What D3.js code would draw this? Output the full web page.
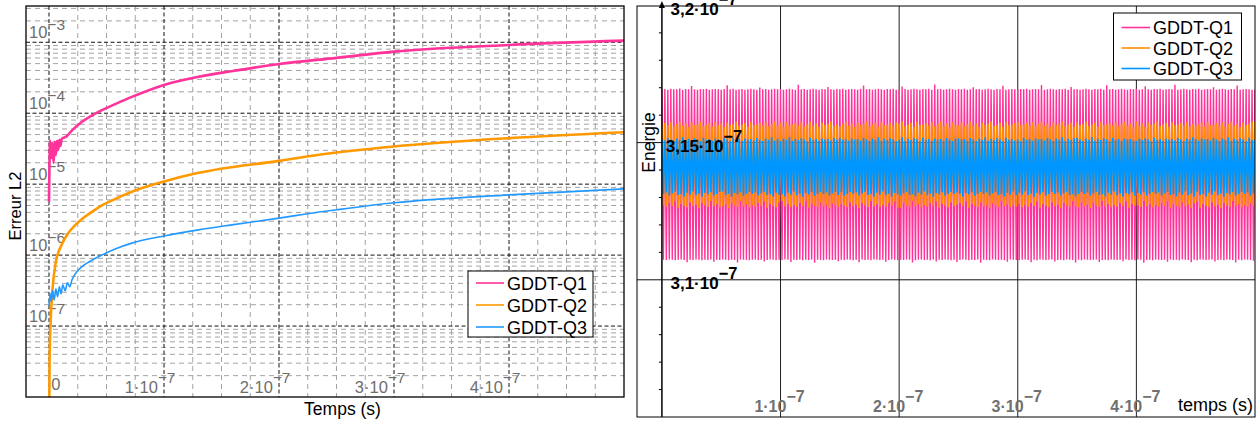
<!DOCTYPE html>
<html><head><meta charset="utf-8">
<script src="https://cdn.jsdelivr.net/npm/d3@7"></script>
<style>
body{margin:0;background:#fff}
svg{display:block}
text{font-family:"Liberation Sans",Arial,Helvetica,sans-serif}
</style>
</head><body>
<svg id="c" width="1258" height="421"></svg>
<script>
// ---------- shared ----------
const seriesNames = ["GDDT-Q1", "GDDT-Q2", "GDDT-Q3"];
const leftColors = ["#ff3399", "#ff9900", "#2299ff"];
const rightColors = ["#ff3399", "#ff8c00", "#0096ff"];

// ---------- left panel: L2 error vs time (s) ----------
const q1Time = [0, 1e-9, 2e-9, 3e-9, 4e-9, 5e-9, 6e-9, 7e-9, 8e-9, 9e-9, 1.0e-8, 1.1e-8, 1.5e-8, 2.0e-8, 2.9e-8, 4.35e-8, 5.8e-8, 7.2e-8, 1.0e-7, 1.3e-7, 1.6e-7, 2.0e-7, 2.5e-7, 3.0e-7, 4.0e-7, 5.0e-7];
const q1Err  = [5.64e-6, 4.07e-5, 2.34e-5, 3.82e-5, 2.00e-5, 3.94e-5, 2.59e-5, 4.07e-5, 3.04e-5, 4.21e-5, 3.46e-5, 4.35e-5, 4.68e-5, 5.73e-5, 7.62e-5, 1.054e-4, 1.352e-4, 1.698e-4, 2.506e-4, 3.27e-4, 3.94e-4, 4.94e-4, 6.03e-4, 7.38e-4, 9.16e-4, 1.054e-3];

const q2Time = [0, 5e-10, 1.5e-9, 3e-9, 6e-9, 1.1e-8, 1.7e-8, 2.3e-8, 3.0e-8, 3.8e-8, 4.6e-8, 5.5e-8, 7.2e-8, 1.0e-7, 1.3e-7, 2.0e-7, 2.35e-7, 3.0e-7, 4.0e-7, 5.0e-7];
const q2Err  = [1e-9, 3.35e-8, 1.225e-7, 3.24e-7, 8.05e-7, 1.396e-6, 2.06e-6, 2.67e-6, 3.35e-6, 4.14e-6, 5.03e-6, 5.91e-6, 7.80e-6, 1.089e-5, 1.443e-5, 2.13e-5, 2.59e-5, 3.39e-5, 4.45e-5, 5.40e-5];

const q3Time = [0, 1e-9, 2e-9, 3e-9, 4.5e-9, 6e-9, 7.5e-9, 9e-9, 1.05e-8, 1.2e-8, 1.4e-8, 1.6e-8, 1.8e-8, 2.0e-8, 2.5e-8, 2.9e-8, 3.5e-8, 4.35e-8, 5.8e-8, 7.2e-8, 1.01e-7, 1.3e-7, 1.59e-7, 2.0e-7, 2.35e-7, 2.5e-7, 3.0e-7, 4.0e-7, 5.0e-7];
const q3Err  = [1.93e-7, 2.85e-7, 2.20e-7, 3.14e-7, 2.34e-7, 3.35e-7, 2.59e-7, 3.58e-7, 2.85e-7, 3.82e-7, 3.14e-7, 4.07e-7, 3.58e-7, 4.49e-7, 6.01e-7, 6.95e-7, 8.05e-7, 9.55e-7, 1.227e-6, 1.475e-6, 1.87e-6, 2.27e-6, 2.67e-6, 3.32e-6, 4.04e-6, 4.35e-6, 5.46e-6, 7.07e-6, 8.59e-6];

const leftXTicks = [0, 1e-7, 2e-7, 3e-7, 4e-7];
const leftXTickLabels = [["0", ""], ["1·10", "−7"], ["2·10", "−7"], ["3·10", "−7"], ["4·10", "−7"]];
const leftYTicks = [1e-3, 1e-4, 1e-5, 1e-6, 1e-7];
const leftYTickLabels = [["10", "−3"], ["10", "−4"], ["10", "−5"], ["10", "−6"], ["10", "−7"]];
const leftXLabel = "Temps (s)";
const leftYLabel = "Erreur L2";

// ---------- right panel: energy vs time (values in units of 1e-7) ----------
const q1EnergyHigh = [
3.1694,3.1695,3.1693,3.1696,3.1694,3.1694,3.1697,3.1693,3.1695,3.1694,3.1706,3.1694,3.1693,3.1695,3.1694,3.1696,3.1693,3.1694,3.1695,3.1694,
3.1693,3.1695,3.1709,3.1694,3.1696,3.1693,3.1694,3.1695,3.1693,3.1694,3.1696,3.1694,3.1693,3.1701,3.1694,3.1695,3.1693,3.1694,3.1696,3.1694,
3.1695,3.1693,3.1694,3.1696,3.1694,3.1693,3.1711,3.1694,3.1695,3.1693,3.1694,3.1696,3.1694,3.1693,3.1695,3.1694,3.1703,3.1694,3.1693,3.1695,
3.1694,3.1696,3.1693,3.1694,3.1695,3.1694,3.1693,3.1696,3.1708,3.1694,3.1695,3.1693,3.1694,3.1696,3.1694,3.1693,3.1695,3.1694,3.1696,3.1693,
3.1694,3.1704,3.1695,3.1693,3.1694,3.1696,3.1694,3.1693,3.1695,3.1694,3.1696,3.1693,3.1712,3.1694,3.1695,3.1693,3.1694,3.1696,3.1694,3.1693,
3.1695,3.1694,3.1696,3.1693,3.1694,3.1702,3.1694,3.1695,3.1693,3.1694,3.1696,3.1694,3.1693,3.1695,3.1694,3.1707,3.1693,3.1694,3.1695,3.1694,
3.1693,3.1695,3.1694,3.1696,3.1693,3.1694,3.1695,3.1694,3.1710,3.1693,3.1694,3.1696,3.1694,3.1693,3.1695,3.1694,3.1696,3.1693,3.1703,3.1694,
3.1695,3.1693,3.1694,3.1696,3.1694,3.1693,3.1695,3.1694,3.1696,3.1693,3.1709,3.1694,3.1695,3.1693,3.1694,3.1696,3.1694,3.1693,3.1695,3.1694,
3.1696,3.1693,3.1694,3.1705,3.1694,3.1693,3.1695,3.1694,3.1696,3.1693,3.1694,3.1695,3.1694,3.1711,3.1693,3.1694,3.1696,3.1694,3.1693,3.1695,
3.1694,3.1696,3.1693,3.1694,3.1695,3.1694,3.1702,3.1693,3.1694,3.1696,3.1694,3.1693,3.1695,3.1694,3.1708,3.1693,3.1694,3.1695,3.1694,3.1693];
const q1EnergyLow = [
3.1073,3.1072,3.1074,3.1073,3.1071,3.1073,3.1074,3.1072,3.1064,3.1073,3.1072,3.1074,3.1073,3.1071,3.1073,3.1072,3.1074,3.1066,3.1073,3.1072,
3.1074,3.1073,3.1071,3.1073,3.1072,3.1063,3.1074,3.1073,3.1072,3.1071,3.1073,3.1074,3.1072,3.1073,3.1067,3.1072,3.1074,3.1073,3.1071,3.1073,
3.1072,3.1074,3.1073,3.1065,3.1073,3.1072,3.1074,3.1071,3.1073,3.1072,3.1074,3.1062,3.1073,3.1072,3.1071,3.1074,3.1073,3.1072,3.1073,3.1068,
3.1073,3.1072,3.1074,3.1073,3.1071,3.1073,3.1064,3.1074,3.1072,3.1073,3.1071,3.1074,3.1073,3.1072,3.1073,3.1066,3.1072,3.1074,3.1073,3.1071,
3.1073,3.1072,3.1074,3.1073,3.1063,3.1071,3.1073,3.1074,3.1072,3.1073,3.1071,3.1074,3.1067,3.1073,3.1072,3.1074,3.1073,3.1071,3.1073,3.1065,
3.1072,3.1074,3.1073,3.1071,3.1073,3.1072,3.1074,3.1062,3.1073,3.1072,3.1071,3.1074,3.1073,3.1072,3.1073,3.1071,3.1066,3.1074,3.1073,3.1072,
3.1071,3.1073,3.1074,3.1072,3.1064,3.1073,3.1071,3.1074,3.1073,3.1072,3.1073,3.1074,3.1067,3.1072,3.1073,3.1071,3.1074,3.1073,3.1072,3.1063,
3.1073,3.1071,3.1074,3.1073,3.1072,3.1073,3.1074,3.1065,3.1072,3.1073,3.1071,3.1074,3.1073,3.1072,3.1073,3.1068,3.1074,3.1072,3.1073,3.1071,
3.1074,3.1073,3.1062,3.1072,3.1073,3.1071,3.1074,3.1073,3.1072,3.1073,3.1066,3.1074,3.1072,3.1073,3.1071,3.1074,3.1073,3.1072,3.1064,3.1073,
3.1071,3.1074,3.1073,3.1072,3.1073,3.1074,3.1067,3.1072,3.1073,3.1071,3.1074,3.1073,3.1072,3.1063,3.1073,3.1071,3.1074,3.1073,3.1072,3.1069];
const q2EnergyHigh = [
3.1566,3.1571,3.1562,3.1574,3.1559,3.1568,3.1576,3.1561,3.1570,3.1557,3.1573,3.1564,3.1569,3.1577,3.1560,3.1566,3.1572,3.1558,3.1575,3.1563,
3.1570,3.1557,3.1573,3.1564,3.1569,3.1577,3.1560,3.1566,3.1572,3.1558,3.1575,3.1563,3.1566,3.1571,3.1562,3.1574,3.1559,3.1568,3.1576,3.1561,
3.1572,3.1558,3.1575,3.1563,3.1566,3.1571,3.1562,3.1574,3.1559,3.1568,3.1576,3.1561,3.1570,3.1557,3.1573,3.1564,3.1569,3.1577,3.1560,3.1566,
3.1559,3.1568,3.1576,3.1561,3.1570,3.1557,3.1573,3.1564,3.1569,3.1577,3.1560,3.1566,3.1572,3.1558,3.1575,3.1563,3.1566,3.1571,3.1562,3.1574,
3.1569,3.1577,3.1560,3.1566,3.1572,3.1558,3.1575,3.1563,3.1566,3.1571,3.1562,3.1574,3.1559,3.1568,3.1576,3.1561,3.1570,3.1557,3.1573,3.1564,
3.1562,3.1574,3.1559,3.1568,3.1576,3.1561,3.1570,3.1557,3.1573,3.1564,3.1569,3.1577,3.1560,3.1566,3.1572,3.1558,3.1575,3.1563,3.1566,3.1571,
3.1575,3.1563,3.1566,3.1571,3.1562,3.1574,3.1559,3.1568,3.1576,3.1561,3.1570,3.1557,3.1573,3.1564,3.1569,3.1577,3.1560,3.1566,3.1572,3.1558,
3.1573,3.1564,3.1569,3.1577,3.1560,3.1566,3.1572,3.1558,3.1575,3.1563,3.1566,3.1571,3.1562,3.1574,3.1559,3.1568,3.1576,3.1561,3.1570,3.1557,
3.1576,3.1561,3.1570,3.1557,3.1573,3.1564,3.1569,3.1577,3.1560,3.1566,3.1572,3.1558,3.1575,3.1563,3.1566,3.1571,3.1562,3.1574,3.1559,3.1568,
3.1560,3.1566,3.1572,3.1558,3.1575,3.1563,3.1566,3.1571,3.1562,3.1574,3.1559,3.1568,3.1576,3.1561,3.1570,3.1557,3.1573,3.1564,3.1569,3.1577];
const q2EnergyLow = [
3.1272,3.1266,3.1280,3.1269,3.1285,3.1263,3.1276,3.1270,3.1264,3.1282,3.1268,3.1274,3.1262,3.1279,3.1271,3.1265,3.1287,3.1268,3.1275,3.1264,
3.1268,3.1274,3.1262,3.1279,3.1271,3.1265,3.1287,3.1268,3.1275,3.1264,3.1272,3.1266,3.1280,3.1269,3.1285,3.1263,3.1276,3.1270,3.1264,3.1282,
3.1287,3.1268,3.1275,3.1264,3.1272,3.1266,3.1280,3.1269,3.1285,3.1263,3.1276,3.1270,3.1264,3.1282,3.1268,3.1274,3.1262,3.1279,3.1271,3.1265,
3.1276,3.1270,3.1264,3.1282,3.1268,3.1274,3.1262,3.1279,3.1271,3.1265,3.1287,3.1268,3.1275,3.1264,3.1272,3.1266,3.1280,3.1269,3.1285,3.1263,
3.1262,3.1279,3.1271,3.1265,3.1287,3.1268,3.1275,3.1264,3.1272,3.1266,3.1280,3.1269,3.1285,3.1263,3.1276,3.1270,3.1264,3.1282,3.1268,3.1274,
3.1280,3.1269,3.1285,3.1263,3.1276,3.1270,3.1264,3.1282,3.1268,3.1274,3.1262,3.1279,3.1271,3.1265,3.1287,3.1268,3.1275,3.1264,3.1272,3.1266,
3.1275,3.1264,3.1272,3.1266,3.1280,3.1269,3.1285,3.1263,3.1276,3.1270,3.1264,3.1282,3.1268,3.1274,3.1262,3.1279,3.1271,3.1265,3.1287,3.1268,
3.1264,3.1282,3.1268,3.1274,3.1262,3.1279,3.1271,3.1265,3.1287,3.1268,3.1275,3.1264,3.1272,3.1266,3.1280,3.1269,3.1285,3.1263,3.1276,3.1270,
3.1271,3.1265,3.1287,3.1268,3.1275,3.1264,3.1272,3.1266,3.1280,3.1269,3.1285,3.1263,3.1276,3.1270,3.1264,3.1282,3.1268,3.1274,3.1262,3.1279,
3.1285,3.1263,3.1276,3.1270,3.1264,3.1282,3.1268,3.1274,3.1262,3.1279,3.1271,3.1265,3.1287,3.1268,3.1275,3.1264,3.1272,3.1266,3.1280,3.1269];
const q3EnergyHigh = [
3.1513,3.1508,3.1517,3.1511,3.1506,3.1515,3.1510,3.1519,3.1507,3.1514,3.1509,3.1516,3.1512,3.1505,3.1518,3.1510,3.1513,3.1507,3.1515,3.1511,
3.1509,3.1516,3.1512,3.1505,3.1518,3.1510,3.1513,3.1507,3.1515,3.1511,3.1513,3.1508,3.1517,3.1511,3.1506,3.1515,3.1510,3.1519,3.1507,3.1514,
3.1506,3.1515,3.1510,3.1519,3.1507,3.1514,3.1509,3.1516,3.1512,3.1505,3.1518,3.1510,3.1513,3.1507,3.1515,3.1511,3.1513,3.1508,3.1517,3.1511,
3.1518,3.1510,3.1513,3.1507,3.1515,3.1511,3.1513,3.1508,3.1517,3.1511,3.1506,3.1515,3.1510,3.1519,3.1507,3.1514,3.1509,3.1516,3.1512,3.1505,
3.1510,3.1519,3.1507,3.1514,3.1509,3.1516,3.1512,3.1505,3.1518,3.1510,3.1513,3.1507,3.1515,3.1511,3.1513,3.1508,3.1517,3.1511,3.1506,3.1515,
3.1515,3.1511,3.1513,3.1508,3.1517,3.1511,3.1506,3.1515,3.1510,3.1519,3.1507,3.1514,3.1509,3.1516,3.1512,3.1505,3.1518,3.1510,3.1513,3.1507,
3.1512,3.1505,3.1518,3.1510,3.1513,3.1507,3.1515,3.1511,3.1513,3.1508,3.1517,3.1511,3.1506,3.1515,3.1510,3.1519,3.1507,3.1514,3.1509,3.1516,
3.1517,3.1511,3.1506,3.1515,3.1510,3.1519,3.1507,3.1514,3.1509,3.1516,3.1512,3.1505,3.1518,3.1510,3.1513,3.1507,3.1515,3.1511,3.1513,3.1508,
3.1507,3.1514,3.1509,3.1516,3.1512,3.1505,3.1518,3.1510,3.1513,3.1507,3.1515,3.1511,3.1513,3.1508,3.1517,3.1511,3.1506,3.1515,3.1510,3.1519,
3.1513,3.1507,3.1515,3.1511,3.1513,3.1508,3.1517,3.1511,3.1506,3.1515,3.1510,3.1519,3.1507,3.1514,3.1509,3.1516,3.1512,3.1505,3.1518,3.1510];
const q3EnergyLow = [
3.1313,3.1318,3.1307,3.1315,3.1321,3.1309,3.1312,3.1304,3.1317,3.1310,3.1322,3.1308,3.1314,3.1303,3.1316,3.1311,3.1319,3.1306,3.1313,3.1320,
3.1322,3.1308,3.1314,3.1303,3.1316,3.1311,3.1319,3.1306,3.1313,3.1320,3.1313,3.1318,3.1307,3.1315,3.1321,3.1309,3.1312,3.1304,3.1317,3.1310,
3.1312,3.1304,3.1317,3.1310,3.1322,3.1308,3.1314,3.1303,3.1316,3.1311,3.1319,3.1306,3.1313,3.1320,3.1313,3.1318,3.1307,3.1315,3.1321,3.1309,
3.1319,3.1306,3.1313,3.1320,3.1313,3.1318,3.1307,3.1315,3.1321,3.1309,3.1312,3.1304,3.1317,3.1310,3.1322,3.1308,3.1314,3.1303,3.1316,3.1311,
3.1307,3.1315,3.1321,3.1309,3.1312,3.1304,3.1317,3.1310,3.1322,3.1308,3.1314,3.1303,3.1316,3.1311,3.1319,3.1306,3.1313,3.1320,3.1313,3.1318,
3.1314,3.1303,3.1316,3.1311,3.1319,3.1306,3.1313,3.1320,3.1313,3.1318,3.1307,3.1315,3.1321,3.1309,3.1312,3.1304,3.1317,3.1310,3.1322,3.1308,
3.1317,3.1310,3.1322,3.1308,3.1314,3.1303,3.1316,3.1311,3.1319,3.1306,3.1313,3.1320,3.1313,3.1318,3.1307,3.1315,3.1321,3.1309,3.1312,3.1304,
3.1313,3.1320,3.1313,3.1318,3.1307,3.1315,3.1321,3.1309,3.1312,3.1304,3.1317,3.1310,3.1322,3.1308,3.1314,3.1303,3.1316,3.1311,3.1319,3.1306,
3.1316,3.1311,3.1319,3.1306,3.1313,3.1320,3.1313,3.1318,3.1307,3.1315,3.1321,3.1309,3.1312,3.1304,3.1317,3.1310,3.1322,3.1308,3.1314,3.1303,
3.1321,3.1309,3.1312,3.1304,3.1317,3.1310,3.1322,3.1308,3.1314,3.1303,3.1316,3.1311,3.1319,3.1306,3.1313,3.1320,3.1313,3.1318,3.1307,3.1315];
const energyEndTime = 5e-7; // peaks evenly spaced in time over [0, 5e-7]
const rightXTicks = [1e-7, 2e-7, 3e-7, 4e-7];
const rightXTickLabels = [["1·10", "−7"], ["2·10", "−7"], ["3·10", "−7"], ["4·10", "−7"]];
const rightYTicks = [3.2, 3.15, 3.1];
const rightYTickLabels = [["3,2·10", "−7"], ["3,15·10", "−7"], ["3,1·10", "−7"]];
const rightYMinorTicks = [3.06, 3.07, 3.08, 3.09, 3.11, 3.12, 3.13, 3.14, 3.16, 3.17, 3.18, 3.19];
const rightXLabel = "temps (s)";
const rightYLabel = "Energie";

// ---------- drawing ----------
const svg = d3.select("#c");

function powText(g, x, y, base, exp, o) {
  const t = g.append("text").attr("x", x).attr("y", y)
    .attr("text-anchor", o.anchor).attr("fill", o.fill)
    .attr("font-size", o.size).attr("font-weight", o.weight || "normal");
  t.append("tspan").text(base);
  if (exp) t.append("tspan").attr("dy", -o.expDy).attr("font-size", o.expSize).text(exp);
  return t;
}

// ===== LEFT PANEL =====
const L = {x0: 26, x1: 624, y0: 6, y1: 397};
const lx = d3.scaleLinear().domain([-0.2e-7, 5e-7]).range([L.x0, L.x1]);
const ly = d3.scaleLog().domain([1e-8, Math.pow(10, -2.489)]).range([L.y1, L.y0]);
const gL = svg.append("g");
const defs = svg.append("defs");
defs.append("clipPath").attr("id", "clipL")
  .append("rect").attr("x", L.x0).attr("y", L.y0).attr("width", L.x1 - L.x0).attr("height", L.y1 - L.y0);
defs.append("clipPath").attr("id", "clipR")
  .append("rect").attr("x", 662).attr("y", 6).attr("width", 1255 - 662).attr("height", 411);

// minor vertical grid (every 0.25e-7)
const lMinorX = d3.range(0, 5e-7 + 1e-12, 0.25e-7).filter(v => Math.abs(v / 1e-7 - Math.round(v / 1e-7)) > 1e-6);
gL.selectAll(".vmin").data(lMinorX).join("line")
  .attr("x1", d => lx(d)).attr("x2", d => lx(d)).attr("y1", L.y0).attr("y2", L.y1)
  .attr("stroke", "#a3a3a3").attr("stroke-width", 1).attr("stroke-dasharray", "5,4");
// minor horizontal (log) grid
const lMinorY = [];
[-8, -7, -6, -5, -4, -3].forEach(k => { for (let m = 2; m <= 9; m++) { const v = m * Math.pow(10, k); if (v < ly.domain()[1]) lMinorY.push(v); } });
gL.selectAll(".hmin").data(lMinorY).join("line")
  .attr("x1", L.x0).attr("x2", L.x1).attr("y1", d => ly(d)).attr("y2", d => ly(d))
  .attr("stroke", "#a3a3a3").attr("stroke-width", 1).attr("stroke-dasharray", "5,4");
// major grids
gL.selectAll(".vmaj").data(leftXTicks).join("line")
  .attr("x1", d => lx(d)).attr("x2", d => lx(d)).attr("y1", L.y0).attr("y2", L.y1)
  .attr("stroke", "#111").attr("stroke-width", 1).attr("stroke-dasharray", "4,2.5");
gL.selectAll(".hmaj").data(leftYTicks).join("line")
  .attr("x1", L.x0).attr("x2", L.x1).attr("y1", d => ly(d)).attr("y2", d => ly(d))
  .attr("stroke", "#111").attr("stroke-width", 1).attr("stroke-dasharray", "4,2.5");

// tick labels
leftYTicks.forEach((v, i) => powText(gL, 29, ly(v) - 4.5, leftYTickLabels[i][0], leftYTickLabels[i][1],
  {anchor: "start", fill: "#6e6e6e", size: 16.5, expSize: 15.5, expDy: 7.5}));
leftXTicks.forEach((v, i) => powText(gL, lx(v) + 11.5, v === 0 ? 389.5 : 393, leftXTickLabels[i][0], leftXTickLabels[i][1],
  {anchor: "end", fill: "#6e6e6e", size: 16.5, expSize: 15.5, expDy: 10}));

// lines
const leftSeries = [[q1Time, q1Err, 2.6], [q2Time, q2Err, 2.6], [q3Time, q3Err, 1.6]];
const lineL = d3.line().x(d => lx(d[0])).y(d => ly(d[1])).curve(d3.curveMonotoneX);
const gLines = gL.append("g").attr("clip-path", "url(#clipL)");
leftSeries.forEach((s, i) => {
  const pts = s[0].map((t, j) => [t, s[1][j]]);
  gLines.append("path").datum(pts).attr("d", lineL).attr("fill", "none")
    .attr("stroke", leftColors[i]).attr("stroke-width", s[2]).attr("stroke-linejoin", "round");
});

// frame
gL.append("rect").attr("x", L.x0).attr("y", L.y0).attr("width", L.x1 - L.x0).attr("height", L.y1 - L.y0)
  .attr("fill", "none").attr("stroke", "#000").attr("stroke-width", 1.3);

// legend
const legL = gL.append("g");
legL.append("rect").attr("x", 468).attr("y", 271).attr("width", 125).attr("height", 66)
  .attr("fill", "#fff").attr("stroke", "#000").attr("stroke-width", 1);
seriesNames.forEach((n, i) => {
  const yy = 283 + i * 22;
  legL.append("line").attr("x1", 476).attr("x2", 504).attr("y1", yy).attr("y2", yy)
    .attr("stroke", leftColors[i]).attr("stroke-width", 1.6);
  legL.append("text").attr("x", 507).attr("y", yy + 6.5).attr("font-size", 18).attr("fill", "#000").text(n);
});

// axis titles
gL.append("text").attr("x", 342.5).attr("y", 415).attr("text-anchor", "middle")
  .attr("font-size", 17.5).attr("fill", "#000").text(leftXLabel);
gL.append("text").attr("transform", "translate(20.5,206) rotate(-90)").attr("text-anchor", "middle")
  .attr("font-size", 16.5).attr("fill", "#000").text(leftYLabel);

// ===== RIGHT PANEL =====
const R = {x0: 637, x1: 1255, y0: 6, y1: 417};
const rx = d3.scaleLinear().domain([-0.21e-7, 5e-7]).range([R.x0, R.x1]);
const ry = d3.scaleLinear().domain([3.05, 3.2]).range([417, 5.4]);
const gR = svg.append("g");

// grid lines
gR.selectAll(".rv").data(rightXTicks).join("line")
  .attr("x1", d => rx(d)).attr("x2", d => rx(d)).attr("y1", R.y0).attr("y2", R.y1)
  .attr("stroke", "#222").attr("stroke-width", 1);
gR.selectAll(".rh").data(rightYTicks.filter(v => v < 3.2)).join("line")
  .attr("x1", R.x0).attr("x2", R.x1).attr("y1", d => ry(d)).attr("y2", d => ry(d))
  .attr("stroke", "#111").attr("stroke-width", 1);

// oscillating energy: zig-zag between successive high and low peaks
const rightSeries = [[q1EnergyHigh, q1EnergyLow, 1.45], [q2EnergyHigh, q2EnergyLow, 1.8], [q3EnergyHigh, q3EnergyLow, 1.7]];
const gOsc = gR.append("g").attr("clip-path", "url(#clipR)");
const lineR = d3.line().x(d => rx(d[0])).y(d => ry(d[1]));
rightSeries.forEach((s, i) => {
  const n = s[0].length, T = energyEndTime / n;
  const pts = [];
  s[0].forEach((hi, j) => { pts.push([j * T, hi]); pts.push([(j + 0.5) * T, s[1][j]]); });
  pts.push([energyEndTime, s[0][n - 1]]);
  gOsc.append("path").datum(pts).attr("d", lineR).attr("fill", "none")
    .attr("stroke", rightColors[i]).attr("stroke-width", s[2]);
});

// y axis with arrow + minor ticks
const ax0 = rx(0);
gR.append("line").attr("x1", ax0).attr("x2", ax0).attr("y1", R.y1).attr("y2", 4)
  .attr("stroke", "#000").attr("stroke-width", 1.5);
gR.append("path").attr("d", `M${ax0 - 3},${8} L${ax0},${1} L${ax0 + 3},${8} Z`).attr("fill", "#000");
gR.selectAll(".rt").data(rightYMinorTicks).join("line")
  .attr("x1", ax0 - 3).attr("x2", ax0).attr("y1", d => ry(d)).attr("y2", d => ry(d))
  .attr("stroke", "#000").attr("stroke-width", 1);

// frame
gR.append("rect").attr("x", R.x0).attr("y", R.y0).attr("width", R.x1 - R.x0).attr("height", R.y1 - R.y0)
  .attr("fill", "none").attr("stroke", "#000").attr("stroke-width", 1);

// tick labels
rightYTicks.forEach((v, i) => powText(gR, 704, ry(v) + 9.3, rightYTickLabels[i][0], rightYTickLabels[i][1],
  {anchor: "middle", fill: "#000", size: 17, expSize: 16.5, expDy: 10, weight: "bold"}));
rightXTicks.forEach((v, i) => powText(gR, rx(v) - 1, 412.3, rightXTickLabels[i][0], rightXTickLabels[i][1],
  {anchor: "middle", fill: "#707070", size: 16, expSize: 16, expDy: 10, weight: "bold"}));

// titles
gR.append("text").attr("x", 1253).attr("y", 411).attr("text-anchor", "end")
  .attr("font-size", 18).attr("fill", "#000").text(rightXLabel);
gR.append("text").attr("transform", "translate(655,142.5) rotate(-90)").attr("text-anchor", "middle")
  .attr("font-size", 17.5).attr("fill", "#000").text(rightYLabel);

// legend
const legR = gR.append("g");
legR.append("rect").attr("x", 1113.5).attr("y", 13).attr("width", 128).attr("height", 67)
  .attr("fill", "#fff").attr("stroke", "#000").attr("stroke-width", 1);
seriesNames.forEach((n, i) => {
  const yy = 27.5 + i * 20.5;
  legR.append("line").attr("x1", 1121.5).attr("x2", 1150).attr("y1", yy).attr("y2", yy)
    .attr("stroke", rightColors[i]).attr("stroke-width", 1.6);
  legR.append("text").attr("x", 1153).attr("y", yy + 6.5).attr("font-size", 18).attr("fill", "#000").text(n);
});
</script>
</body></html>
